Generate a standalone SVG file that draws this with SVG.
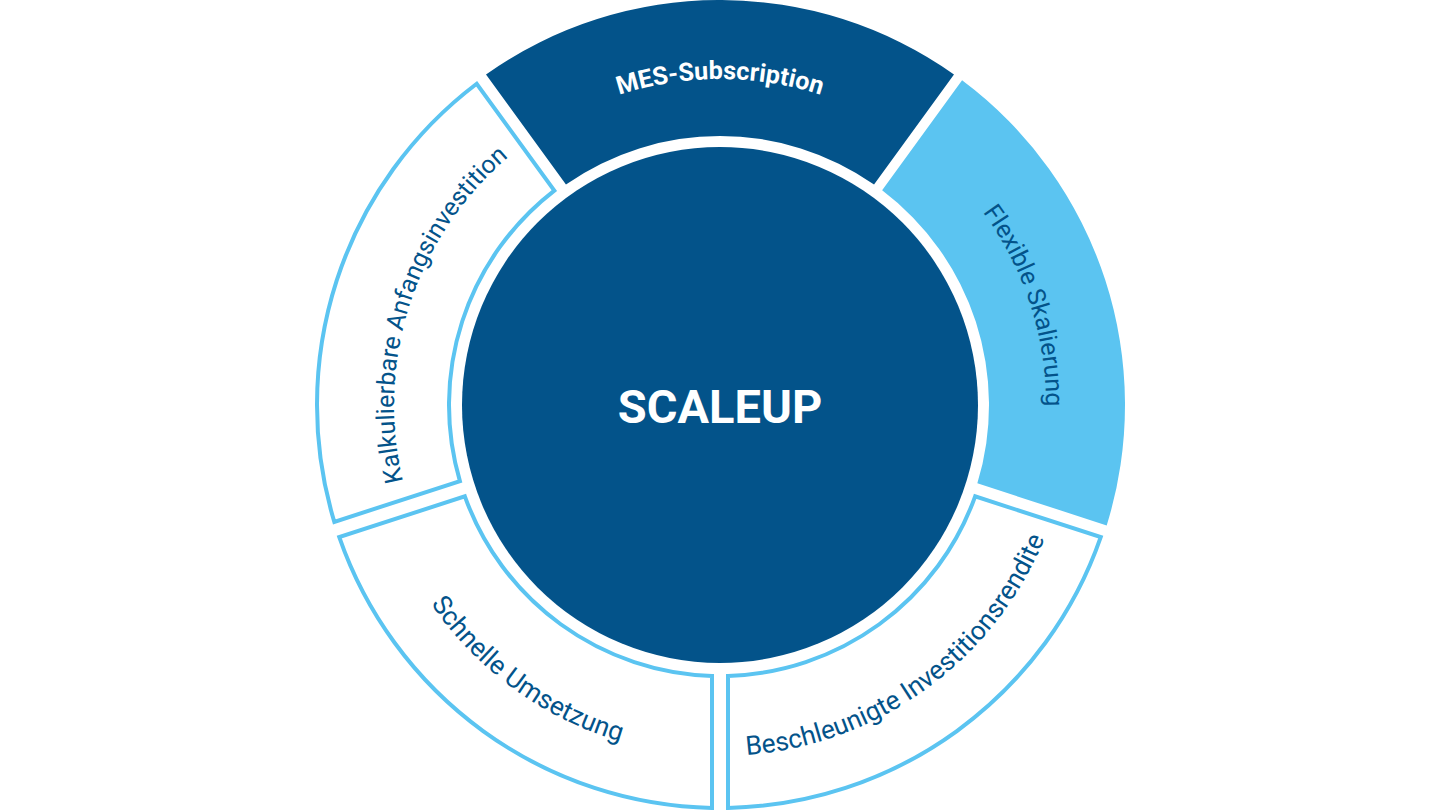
<svg xmlns="http://www.w3.org/2000/svg" width="1440" height="810" viewBox="0 0 1440 810">
<style>
.fill-dark{fill:#03538A;}
.fill-light{fill:#5BC4F1;}
.outline{fill:#FFFFFF;stroke:#5BC4F1;stroke-width:4;stroke-linejoin:miter;}
.lbl{font-family:Roboto,"Liberation Sans",sans-serif;font-size:25px;fill:#03538A;}
.lbl-b{font-family:Roboto,"Liberation Sans",sans-serif;font-size:26.3px;fill:#03538A;}
.lbl-w{font-family:Roboto,"Liberation Sans",sans-serif;font-size:25.2px;font-weight:bold;fill:#FFFFFF;}
.center{font-family:Roboto,"Liberation Sans",sans-serif;font-size:47px;font-weight:bold;fill:#FFFFFF;}
</style>
<defs>
<path id="p-mes" d="M528.38,141.26 A326,326 0 0 1 911.62,141.26"/>
<path id="p-flex" d="M911.62,141.26 A326,326 0 0 1 1030.05,505.74"/>
<path id="p-kalk" d="M409.96,505.74 A326,326 0 0 1 528.38,141.26"/>
<path id="p-besch" d="M720,756 A351,351 0 0 0 1053.82,513.47"/>
<path id="p-schn" d="M386.18,513.47 A351,351 0 0 0 720,756"/>
</defs>
<rect width="1440" height="810" fill="#FFFFFF"/>
<g id="connectors"/>
<g id="seg-mes">
<path class="fill-dark" d="M486.01,74.43 A405,405 0 0 1 953.99,74.43 L874.04,184.47 A269,269 0 0 0 565.96,184.47 Z"/>
<text class="lbl-w"><textPath href="#p-mes" startOffset="50%" text-anchor="middle">MES-Subscription</textPath></text>
</g>
<g id="seg-flex">
<path class="fill-light" d="M962.08,80.31 A405,405 0 0 1 1106.69,525.39 L977.34,483.36 A269,269 0 0 0 882.13,190.35 Z"/>
<text class="lbl"><textPath href="#p-flex" startOffset="50%" text-anchor="middle">Flexible Skalierung</textPath></text>
</g>
<g id="seg-besch">
<path class="outline" d="M1100.73,537.12 A403,403 0 0 1 728,807.92 L728,675.88 A271,271 0 0 0 975.15,496.32 Z"/>
<text class="lbl-b"><textPath href="#p-besch" startOffset="50%" text-anchor="middle">Beschleunigte Investitionsrendite</textPath></text>
</g>
<g id="seg-schn">
<path class="outline" d="M712,807.92 A403,403 0 0 1 339.27,537.12 L464.85,496.32 A271,271 0 0 0 712,675.88 Z"/>
<text class="lbl-b"><textPath href="#p-schn" startOffset="50%" text-anchor="middle">Schnelle Umsetzung</textPath></text>
</g>
<g id="seg-kalk">
<path class="outline" d="M334.33,521.90 A403,403 0 0 1 476.70,83.73 L554.31,190.55 A271,271 0 0 0 459.90,481.10 Z"/>
<text class="lbl"><textPath href="#p-kalk" startOffset="50%" text-anchor="middle">Kalkulierbare Anfangsinvestition</textPath></text>
</g>
<g id="center">
<circle class="fill-dark" cx="720" cy="405" r="258"/>
<text class="center" x="720" y="423" text-anchor="middle">SCALEUP</text>
</g>
</svg>
